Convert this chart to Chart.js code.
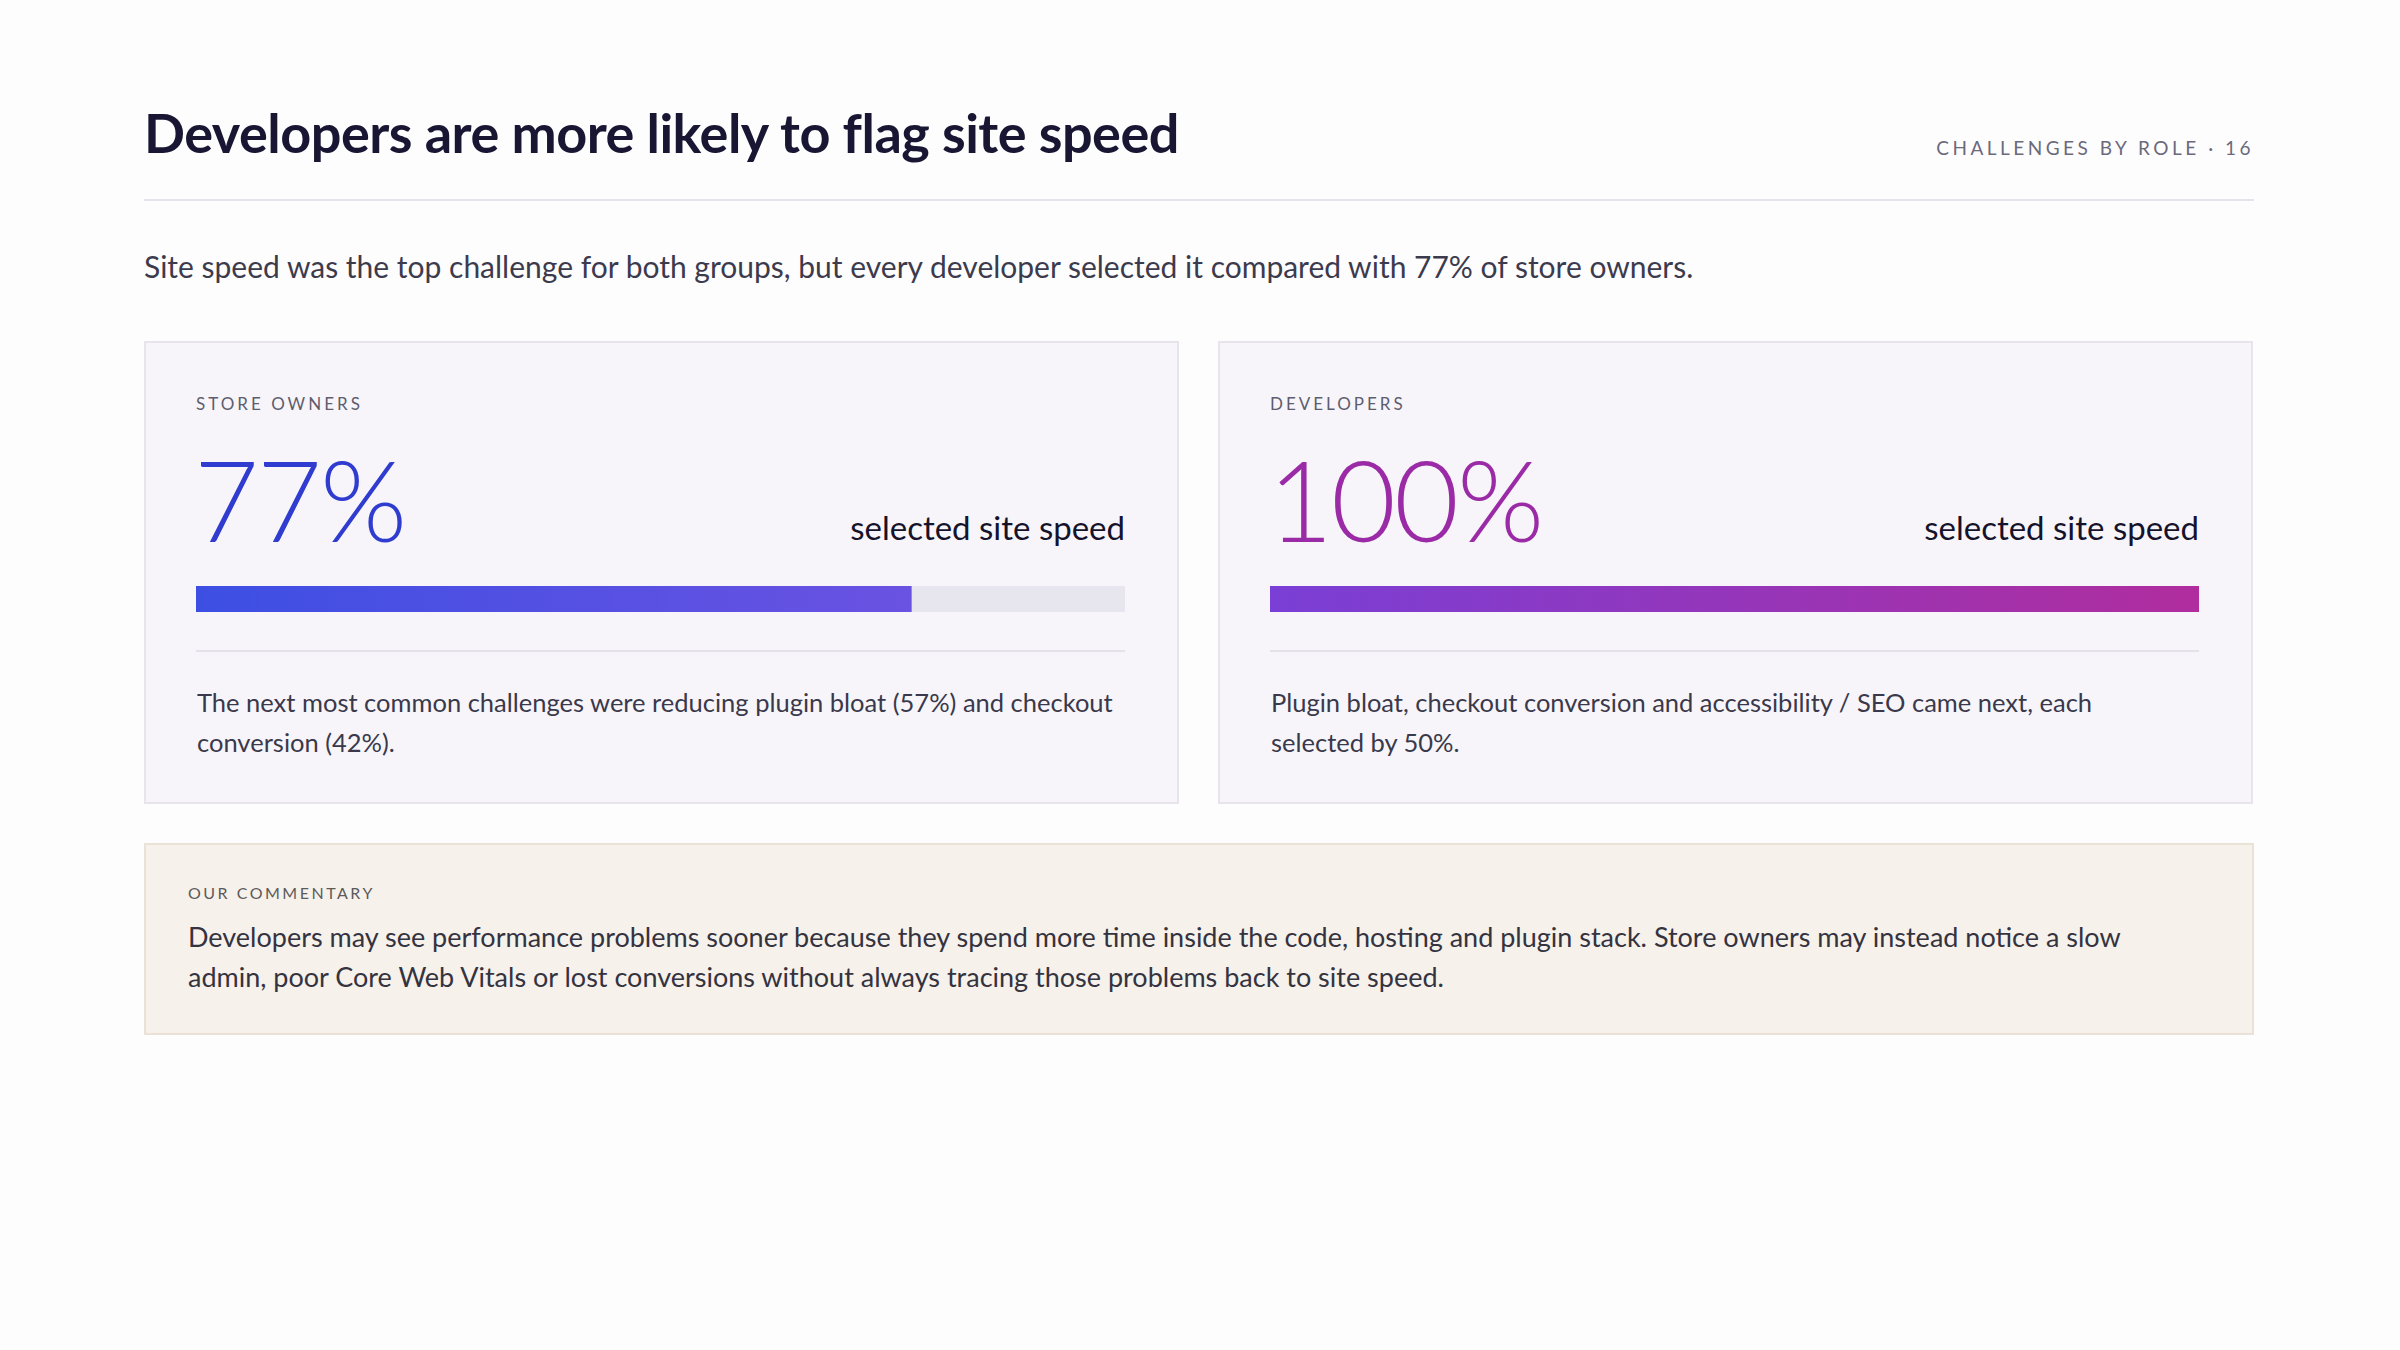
<!DOCTYPE html>
<html><head><meta charset="utf-8">
<script src="https://cdn.jsdelivr.net/npm/chart.js@4/dist/chart.umd.min.js"></script>
<style>
body{margin:0;width:2400px;height:1350px;background:#fefdfd;font-family:"Lato","Open Sans",sans-serif;color:#1c1a33;position:relative}
.abs{position:absolute}
h1{position:absolute;left:144px;top:100px;margin:0;font-size:54px;font-weight:700;letter-spacing:-0.5px;color:#181632}
.tag{right:146px;top:136px;font-size:19px;letter-spacing:3.5px;color:#6b6a7c}
.rule{left:144px;right:146px;top:199px;height:2px;background:#e6e4ea}
.sub{left:144px;top:248px;font-size:30px;color:#3c3b4e}
.card{top:341px;width:1035px;height:463px;background:#f7f5fa;border:2px solid #e7e4ec;box-sizing:border-box}
.lab{position:absolute;left:50px;top:50px;font-size:17px;letter-spacing:3px;color:#5e5d6e}
.big{position:absolute;left:48px;top:88px;font-size:112px;font-weight:300;letter-spacing:-2px}
.sel{position:absolute;right:52px;top:164px;font-size:33px;color:#15132b}
.barw{position:absolute;left:50px;right:52px;top:243px;height:26px;background:#e7e5ee}
.sep{position:absolute;left:50px;right:52px;top:307px;height:2px;background:#e4e1e9}
.note{position:absolute;left:51px;right:60px;top:339px;font-size:25.5px;line-height:40px;color:#3a394b}
.com{left:144px;top:843px;width:2110px;height:192px;background:#f6f1eb;border:2px solid #ebe2d7;box-sizing:border-box}
</style></head><body>
<h1>Developers are more likely to flag site speed</h1>
<div class="abs tag">CHALLENGES BY ROLE · 16</div>
<div class="abs rule"></div>
<div class="abs sub">Site speed was the top challenge for both groups, but every developer selected it compared with 77% of store owners.</div>
<div class="abs card" style="left:144px">
 <div class="lab">STORE OWNERS</div>
 <div class="big" style="color:#2f3ccf">77%</div>
 <div class="sel">selected site speed</div>
 <div class="barw"><canvas id="c0"></canvas></div>
 <div class="sep"></div>
 <div class="note">The next most common challenges were reducing plugin bloat (57%) and checkout conversion (42%).</div>
</div>
<div class="abs card" style="left:1218px">
 <div class="lab">DEVELOPERS</div>
 <div class="big" style="color:#9b2aa6">100%</div>
 <div class="sel">selected site speed</div>
 <div class="barw"><canvas id="c1"></canvas></div>
 <div class="sep"></div>
 <div class="note">Plugin bloat, checkout conversion and accessibility / SEO came next, each selected by 50%.</div>
</div>
<div class="abs com">
 <div style="position:absolute;left:42px;top:38px;font-size:16px;letter-spacing:2.5px;color:#5d5a5a">OUR COMMENTARY</div>
 <div style="position:absolute;left:42px;right:50px;top:72px;font-size:27px;line-height:40px;color:#34333f">Developers may see performance problems sooner because they spend more time inside the code, hosting and plugin stack. Store owners may instead notice a slow admin, poor Core Web Vitals or lost conversions without always tracing those problems back to site speed.</div>
</div>
<script>
const groups = ["Store owners", "Developers"];
const siteSpeedShare = [77, 100];
const gradientStops = [["#3d4fe3", "#6a52e2"], ["#7a3fd6", "#b02d9e"]];

groups.forEach((g, i) => {
	const canvas = document.getElementById("c" + i);
	canvas.parentNode.style.height = "26px";
	new Chart(canvas, {
		type: "bar",
		data: {
			labels: [g],
			datasets: [{
				data: [siteSpeedShare[i]],
				backgroundColor: (ctx) => {
					const a = ctx.chart.chartArea;
					if (!a) return gradientStops[i][0];
					const gr = ctx.chart.ctx.createLinearGradient(a.left, 0, ctx.chart.scales.x.getPixelForValue(siteSpeedShare[i]), 0);
					gr.addColorStop(0, gradientStops[i][0]);
					gr.addColorStop(1, gradientStops[i][1]);
					return gr;
				},
				barPercentage: 1,
				categoryPercentage: 1,
				borderWidth: 0
			}]
		},
		options: {
			indexAxis: "y",
			responsive: true,
			maintainAspectRatio: false,
			animation: false,
			layout: { padding: 0 },
			plugins: { legend: { display: false }, tooltip: { enabled: false } },
			scales: {
				x: { min: 0, max: 100, display: false },
				y: { display: false }
			}
		}
	});
});
</script>
</body></html>
